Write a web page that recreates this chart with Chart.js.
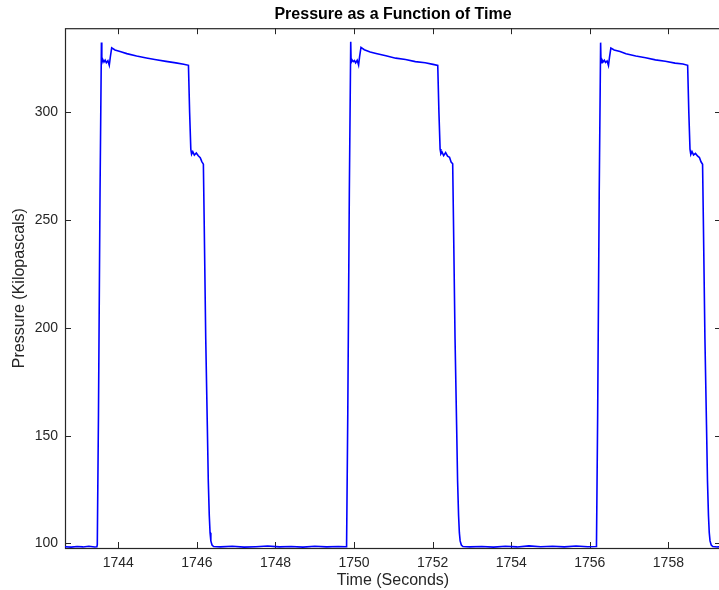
<!DOCTYPE html>
<html>
<head>
<meta charset="utf-8">
<title>Pressure as a Function of Time</title>
<script src="https://cdn.jsdelivr.net/npm/chart.js@4.4.1/dist/chart.umd.min.js"></script>
<style>
  html, body { margin: 0; padding: 0; background: #fff; overflow: hidden; }
  #wrap { position: relative; width: 721px; height: 590px; }
</style>
</head>
<body>
<div id="wrap"><canvas id="pressureChart"></canvas></div>
<script>
// values (time in s, pressure in kPa)

const cycle1Sec = [
    1742.60, 1742.80, 1742.95, 1743.10, 1743.25, 1743.40, 1743.455,
    1743.465, 1743.495, 1743.535, 1743.570, 1743.580, 1743.605, 1743.635, 1743.665,
    1743.695, 1743.735, 1743.770, 1743.795, 1743.831, 1743.915, 1744.065, 1744.215,
    1744.465, 1744.715, 1744.965, 1745.215, 1745.465, 1745.665, 1745.785,
    1745.815, 1745.845, 1745.865, 1745.895, 1745.935, 1745.985, 1746.035, 1746.085,
    1746.125, 1746.165, 1746.185, 1746.225, 1746.265, 1746.290, 1746.315, 1746.335,
    1746.355, 1746.385, 1746.425,
    1746.60, 1746.90, 1747.20, 1747.50, 1747.80, 1748.10, 1748.40, 1748.70,
    1749.00, 1749.30, 1749.60, 1749.80
];
const cycle1Kpa = [
    98.5, 98.3, 98.6, 98.4, 98.7, 98.4, 98.5,
    99.5, 160, 264, 332.5, 323.0, 324.6, 323.4, 324.3,
    323.1, 324.0, 321.9, 325.5, 330.0, 329.0, 328.2, 327.3,
    326.2, 325.3, 324.5, 323.7, 323.0, 322.4, 321.9,
    300, 283, 280.6, 281.8, 280.2, 281.2, 279.9, 279.0,
    277.2, 276.0, 250, 195, 155, 129, 113, 105,
    101.2, 99.3, 98.6,
    98.4, 98.7, 98.3, 98.5, 98.8, 98.4, 98.6, 98.3,
    98.7, 98.4, 98.6, 98.5
];

const cycle2Sec = [
    1749.810, 1749.840, 1749.880, 1749.915, 1749.925, 1749.950, 1749.980, 1750.010,
    1750.040, 1750.080, 1750.115, 1750.140, 1750.176, 1750.260, 1750.410, 1750.560,
    1750.810, 1751.060, 1751.310, 1751.560, 1751.810, 1752.010, 1752.130,
    1752.160, 1752.190, 1752.210, 1752.240, 1752.280, 1752.330, 1752.380, 1752.430,
    1752.470, 1752.510, 1752.530, 1752.570, 1752.610, 1752.635, 1752.660, 1752.680,
    1752.700, 1752.730, 1752.770,
    1752.95, 1753.25, 1753.55, 1753.85, 1754.15, 1754.45, 1754.75, 1755.05,
    1755.35, 1755.65, 1755.95, 1756.16
];
const cycle2Kpa = [
    99.5, 160, 264, 332.8, 323.2, 324.4, 323.6, 324.1,
    323.0, 324.2, 322.0, 325.8, 330.2, 329.1, 328.1, 327.4,
    326.3, 325.2, 324.6, 323.6, 323.1, 322.3, 321.8,
    300, 283, 280.8, 281.6, 280.0, 281.4, 279.7, 279.2,
    277.0, 276.2, 250, 195, 155, 129, 113, 105,
    101.2, 99.3, 98.6,
    98.4, 98.6, 98.3, 98.7, 98.4, 98.9, 98.5, 98.7,
    98.4, 98.8, 98.5, 98.6
];

const cycle3Sec = [
    1756.170, 1756.200, 1756.240, 1756.275, 1756.285, 1756.310, 1756.340, 1756.370,
    1756.400, 1756.440, 1756.475, 1756.500, 1756.536, 1756.620, 1756.770, 1756.920,
    1757.170, 1757.420, 1757.670, 1757.920, 1758.170, 1758.370, 1758.490,
    1758.520, 1758.550, 1758.570, 1758.600, 1758.640, 1758.690, 1758.740, 1758.790,
    1758.830, 1758.870, 1758.890, 1758.930, 1758.970, 1758.995, 1759.020, 1759.040,
    1759.060, 1759.090, 1759.130, 1759.250, 1759.400
];
const cycle3Kpa = [
    99.5, 160, 264, 332.4, 323.1, 324.5, 323.5, 324.2,
    323.2, 323.9, 321.8, 325.4, 329.9, 329.0, 328.3, 327.2,
    326.2, 325.4, 324.4, 323.8, 322.9, 322.5, 321.9,
    300, 283, 280.5, 281.9, 280.3, 281.0, 279.8, 279.1,
    277.1, 276.0, 250, 195, 155, 129, 113, 105,
    101.2, 99.3, 98.6, 98.4, 98.5
];

const xTickValues = [1744, 1746, 1748, 1750, 1752, 1754, 1756, 1758];
const yTickValues = [100, 150, 200, 250, 300];

const AXIS_COLOR = '#262626';
const FONT = "'Liberation Sans', Arial, Helvetica, sans-serif";
const TICK_LEN = 6;

function toPoints(xs, ys) {
    return xs.map((t, i) => ({ x: t, y: ys[i] }));
}

const pressurePoints = [
    ...toPoints(cycle1Sec, cycle1Kpa),
    ...toPoints(cycle2Sec, cycle2Kpa),
    ...toPoints(cycle3Sec, cycle3Kpa)
];

/**
 * Draws the MATLAB-style box with inward tick marks on all four sides,
 * and re-centres the title over the plot area.
 */
const boxAxes = {
    id: 'boxAxes',
    afterLayout(chart) {
        const a = chart.chartArea;
        if (chart.titleBlock) {
            chart.titleBlock.left  = a.left;
            chart.titleBlock.right = a.right;
        }
    },
    beforeDatasetsDraw(chart) {
        const { ctx, chartArea: a, scales: { x, y } } = chart;
        ctx.save();
        ctx.strokeStyle = AXIS_COLOR;
        ctx.lineWidth = 1;
        ctx.beginPath();
        xTickValues.forEach(v => {
            const px = Math.round(x.getPixelForValue(v)) + 0.5;
            ctx.moveTo(px, a.bottom);
            ctx.lineTo(px, a.bottom - TICK_LEN);
            ctx.moveTo(px, a.top);
            ctx.lineTo(px, a.top + TICK_LEN);
        });
        yTickValues.forEach(v => {
            const py = Math.round(y.getPixelForValue(v)) + 0.5;
            ctx.moveTo(a.left, py);
            ctx.lineTo(a.left + TICK_LEN, py);
            ctx.moveTo(a.right, py);
            ctx.lineTo(a.right - TICK_LEN, py);
        });
        ctx.stroke();
        ctx.lineWidth = 1.2;
        ctx.strokeRect(a.left + 0.5, a.top + 0.5, a.right - a.left - 1, a.bottom - a.top);
        ctx.restore();
    }
};

new Chart(document.getElementById('pressureChart'), {
    type: 'scatter',
    data: {
        datasets: [{
            label: 'Pressure',
            data: pressurePoints,
            showLine: true,
            borderColor: '#0000ff',
            backgroundColor: '#0000ff',
            borderWidth: 1.6,
            pointRadius: 0,
            tension: 0
        }]
    },
    options: {
        responsive: true,
        maintainAspectRatio: false,
        animation: false,
        layout: { padding: 0 },
        plugins: {
            legend: { display: false },
            tooltip: { enabled: false },
            title: {
                display: true,
                text: 'Pressure as a Function of Time',
                color: '#000',
                font: { family: FONT, size: 16, weight: 'bold' },
                padding: { top: 5, bottom: 4 }
            }
        },
        scales: {
            x: {
                type: 'linear',
                min: 1742.643,
                max: 1759.339,
                afterBuildTicks: s => { s.ticks = xTickValues.map(v => ({ value: v })); },
                afterFit: s => { s.height = 42; },
                grid: { display: false, drawTicks: false },
                border: { display: false },
                ticks: {
                    color: AXIS_COLOR,
                    font: { family: FONT, size: 14 },
                    padding: 7,
                    maxRotation: 0,
                    autoSkip: false,
                    callback: v => String(v)
                },
                title: {
                    display: true,
                    text: 'Time (Seconds)',
                    color: AXIS_COLOR,
                    font: { family: FONT, size: 16 },
                    padding: { top: 0, bottom: 0 }
                }
            },
            y: {
                type: 'linear',
                min: 97.9,
                max: 339.1,
                afterBuildTicks: s => { s.ticks = yTickValues.map(v => ({ value: v })); },
                afterFit: s => { s.width = 65; },
                grid: { display: false, drawTicks: false },
                border: { display: false },
                ticks: {
                    color: AXIS_COLOR,
                    font: { family: FONT, size: 14 },
                    padding: 7,
                    callback: v => String(v)
                },
                title: {
                    display: true,
                    text: 'Pressure (Kilopascals)',
                    color: AXIS_COLOR,
                    font: { family: FONT, size: 16 },
                    padding: { top: 10, bottom: 0 }
                }
            }
        }
    },
    plugins: [boxAxes]
});
</script>
</body>
</html>
